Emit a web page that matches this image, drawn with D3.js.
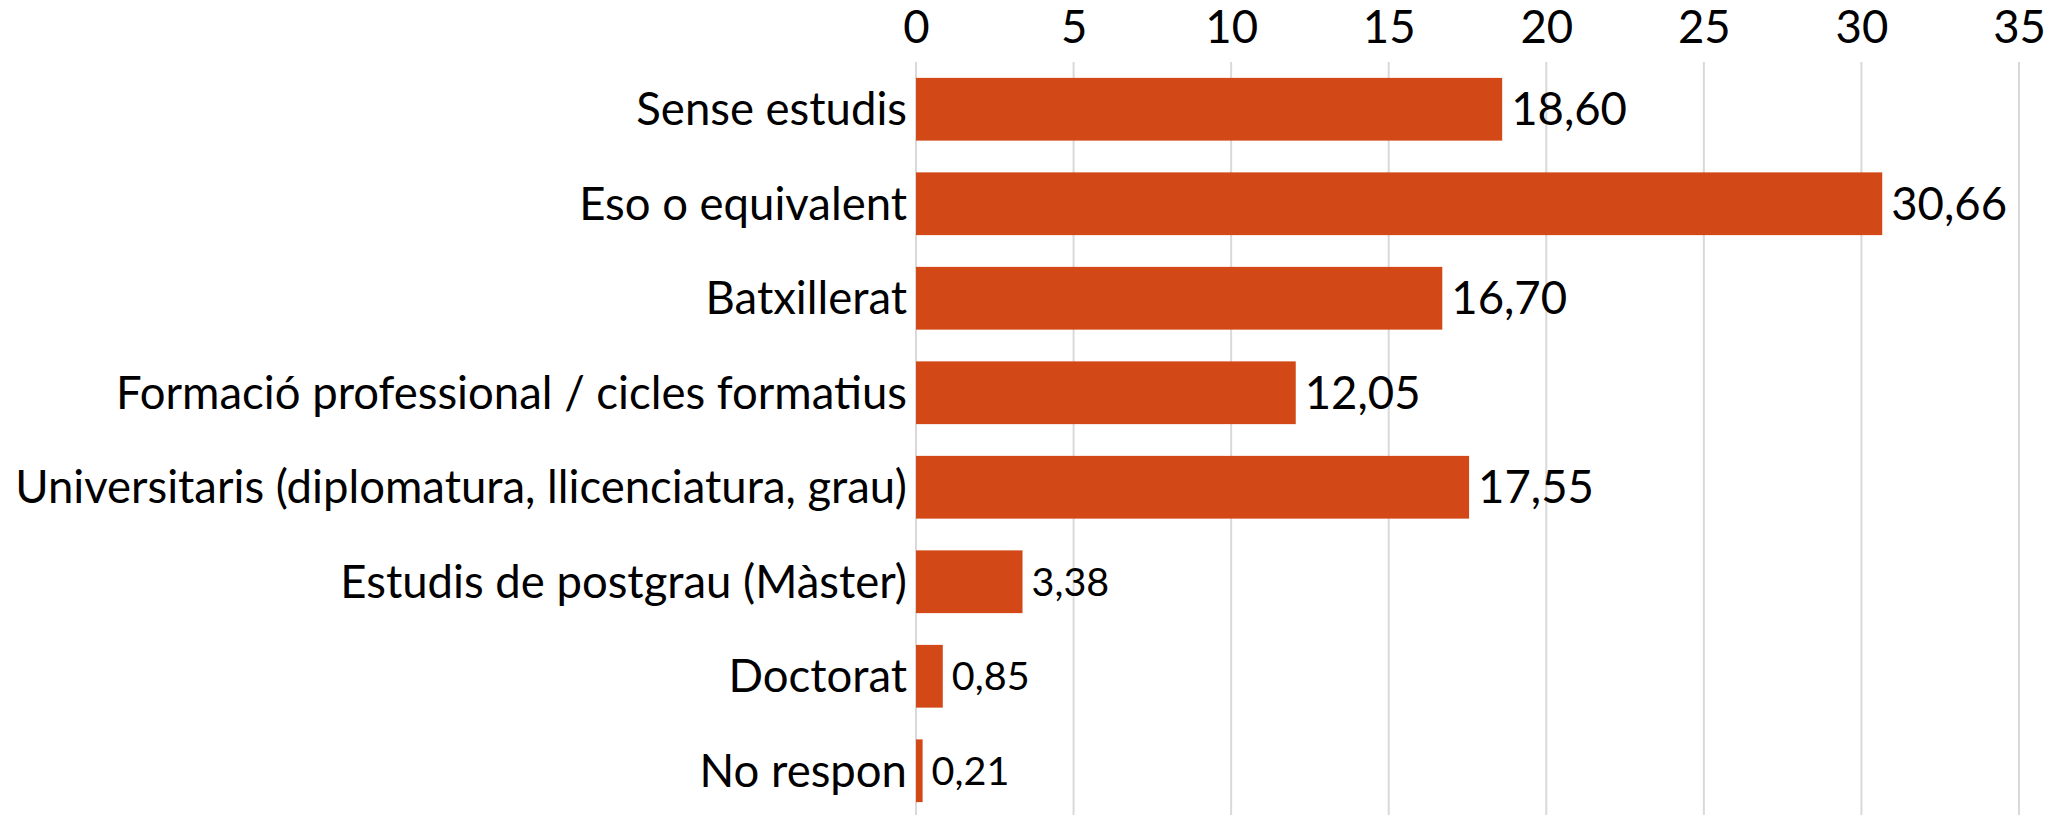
<!DOCTYPE html>
<html>
<head>
<meta charset="utf-8">
<script src="https://cdn.jsdelivr.net/npm/d3@7"></script>
<style>
  html, body { margin: 0; padding: 0; background: #fff; }
  svg { display: block; }
</style>
</head>
<body>
<div id="chart"></div>
<script>
// Nivell d'estudis (%)
const categories = [
  "Sense estudis",
  "Eso o equivalent",
  "Batxillerat",
  "Formació professional / cicles formatius",
  "Universitaris (diplomatura, llicenciatura, grau)",
  "Estudis de postgrau (Màster)",
  "Doctorat",
  "No respon"
];
const values = [18.60, 30.66, 16.70, 12.05, 17.55, 3.38, 0.85, 0.21];
const ticks = [0, 5, 10, 15, 20, 25, 30, 35];

(function() {
  const width = 2064;
  const height = 815;
  const barColor = '#d34817';
  const gridColor = '#d9d9d9';
  const font = "Lato, 'Open Sans', sans-serif";

  const x0 = 916, x1 = 2019;
  const top = 62, bottom = 818;

  const svg = d3.select('#chart').append('svg')
    .attr('width', width)
    .attr('height', height);

  // fit the font so the longest label has the reference width
  const probe = svg.append('text')
    .attr('font-family', font)
    .attr('font-size', 46)
    .text(categories[4]);
  const w = probe.node().getComputedTextLength();
  probe.remove();
  const fs = 46 * 892 / w;

  const x = d3.scaleLinear().domain([0, 35]).range([x0, x1]);
  const y = d3.scaleBand().domain(categories).range([top, bottom]).paddingInner(0.336).paddingOuter(0.168);

  // gridlines
  svg.append('g')
    .selectAll('line')
    .data(ticks)
    .join('line')
    .attr('x1', d => x(d))
    .attr('x2', d => x(d))
    .attr('y1', top)
    .attr('y2', height)
    .attr('stroke', gridColor)
    .attr('stroke-width', 2);

  // top axis labels
  const axis = svg.append('g')
    .attr('transform', `translate(0,${top})`)
    .call(d3.axisTop(x).tickValues(ticks).tickSize(0).tickPadding(19));
  axis.select('.domain').remove();
  axis.selectAll('text')
    .attr('font-family', font)
    .attr('font-size', fs)
    .attr('fill', '#000');

  // bars
  svg.append('g')
    .selectAll('rect')
    .data(values)
    .join('rect')
    .attr('x', x(0))
    .attr('y', (d, i) => y(categories[i]))
    .attr('width', d => x(d) - x(0))
    .attr('height', y.bandwidth())
    .attr('fill', barColor);

  // category labels
  svg.append('g')
    .selectAll('text')
    .data(categories)
    .join('text')
    .attr('x', x(0) - 9)
    .attr('y', d => y(d) + y.bandwidth() / 2)
    .attr('dy', '0.35em')
    .attr('text-anchor', 'end')
    .attr('font-family', font)
    .attr('font-size', fs)
    .attr('fill', '#000')
    .text(d => d);

  // value labels
  svg.append('g')
    .selectAll('text')
    .data(values)
    .join('text')
    .attr('x', d => x(d) + 9)
    .attr('y', (d, i) => y(categories[i]) + y.bandwidth() / 2)
    .attr('dy', '0.35em')
    .attr('font-family', font)
    .attr('font-size', d => d < 5 ? fs * 0.87 : fs)
    .attr('fill', '#000')
    .text(d => d.toFixed(2).replace('.', ','));
})();
</script>
</body>
</html>
